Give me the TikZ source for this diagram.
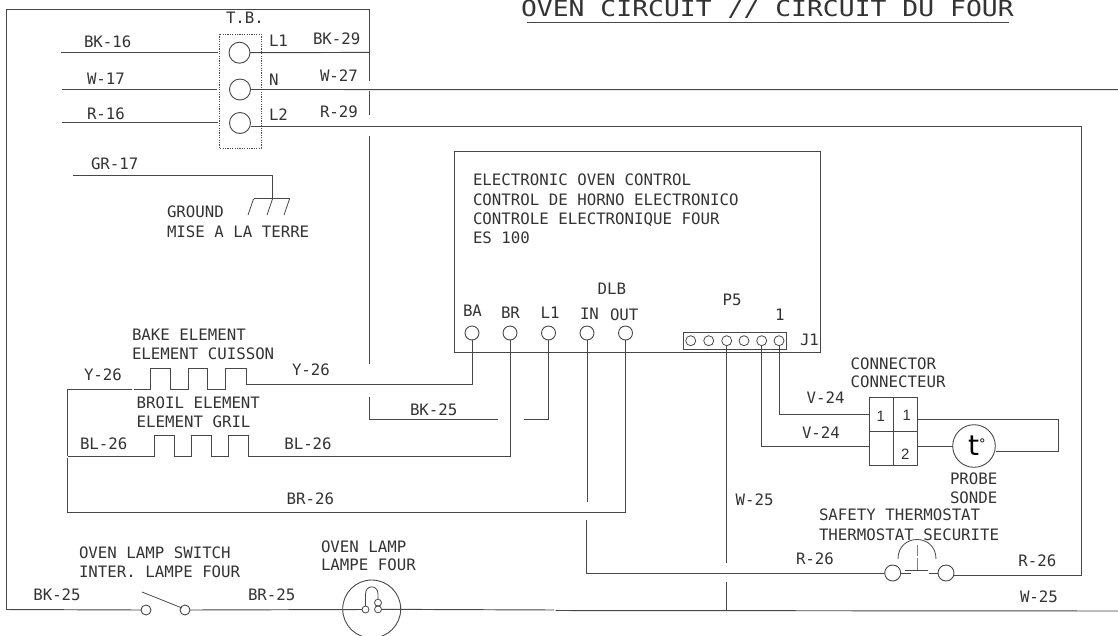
\documentclass[tikz,border=0pt]{standalone}
\usepackage{fontspec}
\setmainfont{DejaVu Sans Mono}
\newfontfamily\digitfont{Liberation Sans}
\newfontfamily\probefont{DejaVu Sans}
\definecolor{ink}{gray}{0.28}
\definecolor{txt}{gray}{0.2}
\tikzset{
  wire/.style={draw=ink,line width=0.95pt,line join=miter},
  lbl/.style={anchor=base west,inner sep=0pt,outer sep=0pt,text=txt,font=\fontsize{15.75}{16}\selectfont},
  ttl/.style={lbl,font=\fontsize{26.4}{27}\selectfont},
  digit/.style={anchor=base west,inner sep=0pt,outer sep=0pt,text=txt,font=\digitfont\fontsize{15}{15}\selectfont},
  term/.style={circle,draw=ink,line width=0.9pt,inner sep=0pt,outer sep=0pt,minimum size=21pt},
  pin/.style={circle,draw=ink,line width=0.9pt,inner sep=0pt,outer sep=0pt,minimum size=14pt},
  spin/.style={circle,draw=ink,line width=0.8pt,inner sep=0pt,outer sep=0pt,minimum size=10pt},
  sw/.style={circle,draw=ink,line width=0.9pt,inner sep=0pt,outer sep=0pt,minimum size=10pt},
  th/.style={circle,draw=ink,line width=0.9pt,inner sep=0pt,outer sep=0pt,minimum size=16pt},
  fil/.style={circle,draw=ink,line width=0.8pt,inner sep=0pt,outer sep=0pt,minimum size=7pt},
}
\newcommand{\lb}[4]{\node[lbl] (#1) at (#2,#3) {#4};}
\begin{document}
\begin{tikzpicture}[x=1pt,y=-1pt]
\clip (0,0) rectangle (1118,635);
% ---------- free ends
\coordinate (tl) at (6.5,9);
\coordinate (tr) at (369,9);
\coordinate (fr1) at (369,81);
\coordinate (fr2a) at (369,90.5);
\coordinate (fr2b) at (369,115);
\coordinate (fr3a) at (369,136);
\coordinate (fr3b) at (369,364);
\coordinate (fr4a) at (369,397);
\coordinate (bk25a) at (498,419.5);
\coordinate (bk25b) at (524,419.5);
\coordinate (bl) at (6.5,609.5);
\coordinate (bk16) at (61,52.7);
\coordinate (bk16e) at (218,52.7);
\coordinate (w17) at (62,89);
\coordinate (w17e) at (217,89);
\coordinate (r16) at (62,122.7);
\coordinate (r16e) at (218,122.7);
\coordinate (l1e) at (369,52.4);
\coordinate (ne) at (1118,89.7);
\coordinate (l2c) at (1081,126);
\coordinate (rc) at (1081,575.7);
\coordinate (gr) at (73,175.7);
\coordinate (grc) at (272,175.7);
\coordinate (gh) at (272,198.5);
\coordinate (ga) at (254,198.5);
\coordinate (gb) at (289.5,198.5);
\coordinate (inend) at (587,501.7);
\coordinate (in2) at (586,520);
\coordinate (w25e) at (726.7,562.7);
\coordinate (w25b) at (726.7,582.3);
\coordinate (w25c) at (726.7,610.5);
\coordinate (gapa) at (554,610);
\coordinate (gapb) at (555.5,610.5);
\coordinate (be) at (1118,611);
\coordinate (yl) at (67.7,389);
\coordinate (yr) at (132,389);
\coordinate (blt) at (67.7,456);
\coordinate (brb) at (67.7,512.5);
% ---------- thermostat nodes
\node[th] (th1) at (892.7,573) {};
\node[th] (th2) at (946,573) {};
% ---------- terminal block
\draw[draw=ink,line width=0.9pt,dash pattern=on 1.2pt off 1.2pt] (219,34) rectangle (261,148);
\node[term] (t1) at (239.5,52.7) {};
\node[term] (t2) at (240,89.5) {};
\node[term] (t3) at (240,123) {};
\draw[wire] (bk16) -- (bk16e);
\draw[wire] (w17) -- (w17e);
\draw[wire] (r16) -- (r16e);
\draw[wire] (t1.east) -- (l1e);
\draw[wire] (t2.east) -- (ne);
\draw[wire] (t3.east) ++(0,3) -- (l2c) -- (rc) -- (954,575.7);
% ---------- outer frame
\draw[wire] (bl) -- (tl) -- (tr) -- (fr1);
\draw[wire] (fr2a) -- (fr2b);
\draw[wire] (fr3a) -- (fr3b);
% ---------- ground
\draw[wire] (gr) -- (grc) -- (gh);
\draw[wire] (ga) -- (gb);
\draw[wire,line width=0.8pt] (253.5,199) -- (248,215);
\draw[wire,line width=0.8pt] (272.5,199) -- (267,215);
\draw[wire,line width=0.8pt] (289.5,199) -- (284,215);
% ---------- control box
\draw[wire] (454.3,151) rectangle (820.7,352.3);
\node[pin] (ba) at (472,333) {};
\node[pin] (br) at (510,333) {};
\node[pin] (ll) at (548.5,333) {};
\node[pin] (in) at (587,333) {};
\node[pin] (out) at (625.5,333) {};
\draw[wire] (683.3,332) rectangle (786,349.3);
\node[spin] (p1) at (690.7,340.7) {};
\node[spin] (p2) at (708.7,340.7) {};
\node[spin] (p3) at (726.7,340.7) {};
\node[spin] (p4) at (744,340.7) {};
\node[spin] (p5) at (761.7,340.7) {};
\node[spin] (p6) at (779,340.7) {};
% ---------- elements and harness
\draw[wire] (ba.south) |- (246,384) -- (246,368) -- (225,368) -- (225,389) -- (207,389) -- (207,368) -- (188,368) -- (188,389) -- (170,389) -- (170,368) -- (150,368) -- (150,389) -- (133.5,389);
\draw[wire] (yr) -- (yl) -- (blt);
\draw[wire] (br.south) |- (248,456) -- (248,435.7) -- (228.7,435.7) -- (228.7,456) -- (211,456) -- (211,435.7) -- (191.7,435.7) -- (191.7,456) -- (174,456) -- (174,435.7) -- (154,435.7) -- (154,456) -- (blt);
\draw[wire] (blt) ++(0,1.5) -- (brb) -- (625.5,512.5) -- (out.south);
\draw[wire] (fr4a) |- (bk25a);
\draw[wire] (bk25b) -- (548.5,419.5) -- (ll.south);
\draw[wire] (in.south) -- (inend);
\draw[wire] (in2) |- (th1.west);
\draw[wire] (p3.south) -- (w25e);
\draw[wire] (w25b) -- (w25c);
% ---------- lamp
\node[circle,draw=ink,line width=0.9pt,inner sep=0pt,minimum size=58pt] (lamp) at (371.7,609) {};
\node[fil] (f1) at (365.5,609.5) {};
\node[fil] (f2) at (378,602.7) {};
\node[fil] (f3) at (378,609.3) {};
\draw[wire,line width=0.8pt] (f1.north) -- (365.5,594) .. controls (365.5,584.5) and (378,584.5) .. (378,594) -- (f2.north);
% ---------- bottom line
\node[sw] (s1) at (146,610) {};
\node[sw] (s2) at (185,610) {};
\draw[wire] (bl) -- (s1.west);
\draw[wire,line width=0.8pt] (142,592) -- (182,608);
\draw[wire] (s2.east) -- (f1.west);
\draw[wire] (f3.east) -- (gapa);
\draw[wire] (gapb) -- (be);
% ---------- connector and probe
\draw[wire] (869,397.3) rectangle (917.3,465);
\draw[wire] (893,397.3) -- (893,465);
\draw[wire] (869,431) -- (917.3,431);
\draw[wire] (p6.south) |- (869,414);
\draw[wire] (p5.south) |- (869,446);
\node[circle,draw=ink,line width=0.9pt,inner sep=0pt,outer sep=0pt,minimum size=42.6pt] (probe) at (974,446) {};
\draw[wire] (917.3,446) -- (probe.west);
\draw[wire] (917.3,419) -- (1058.3,419) -- (1058.3,451) -- (995.7,451);
\node[anchor=base west,inner sep=0pt,text=black,font=\probefont\fontsize{28}{28}\selectfont] (tdeg) at (968,455.7) {t\raisebox{7.7pt}{\fontsize{13}{13}\selectfont °}};
% ---------- thermostat
\draw[wire] (th1.east) -- (911,573);
\draw[wire] (929,573) -- (th2.west);
\draw[wire] (905,570) -- (928,570);
\draw[wire,draw=gray] (917.3,545) -- (917.3,556);
\draw[wire,draw=gray] (917.3,558) -- (917.3,570);
\draw[wire,line width=0.8pt] (898,559) .. controls (898,533) and (936,533) .. (936,559);
% ---------- text
\node[ttl] (title) at (521,16.7) {\scalebox{1}[0.84]{OVEN CIRCUIT // CIRCUIT DU FOUR}};
\draw[wire] (527,22.7) -- (1009,22.7);
\lb{a1}{84}{47.7}{BK-16}
\lb{a2}{87}{84}{W-17}
\lb{a3}{87}{119.5}{R-16}
\lb{a4}{226}{23}{T.B.}
\lb{a5}{269}{46.5}{L1}
\lb{a6}{313}{44.3}{BK-29}
\lb{a7}{269}{85}{N}
\lb{a8}{320}{81}{W-27}
\lb{a9}{269}{120.7}{L2}
\lb{a10}{320}{117}{R-29}
\lb{a11}{91}{169}{GR-17}
\lb{a12}{167}{217.7}{GROUND}
\lb{a13}{167}{237}{MISE A LA TERRE}
\lb{b1}{473}{185.7}{ELECTRONIC OVEN CONTROL}
\lb{b2}{473}{205}{CONTROL DE HORNO ELECTRONICO}
\lb{b3}{473}{224}{CONTROLE ELECTRONIQUE FOUR}
\lb{b4}{473}{243.3}{ES 100}
\lb{b5}{597.7}{294.7}{DLB}
\lb{b6}{722.7}{305.7}{P5}
\lb{b7}{775}{320.7}{1}
\lb{b8}{463}{316.7}{BA}
\lb{b9}{501}{318}{BR}
\lb{b10}{540.7}{318}{L1}
\lb{b11}{580}{319.3}{IN}
\lb{b12}{610}{320}{OUT}
\lb{b13}{800}{345}{J1}
\lb{c1}{132}{340.7}{BAKE ELEMENT}
\lb{c2}{132}{359.7}{ELEMENT CUISSON}
\lb{c3}{84}{380}{Y-26}
\lb{c4}{292}{375.7}{Y-26}
\lb{c5}{136.7}{408.3}{BROIL ELEMENT}
\lb{c6}{136.7}{427.3}{ELEMENT GRIL}
\lb{c7}{80}{449.3}{BL-26}
\lb{c8}{284.3}{449.3}{BL-26}
\lb{c9}{410}{415}{BK-25}
\lb{c10}{286.7}{504}{BR-26}
\lb{c11}{79}{558}{OVEN LAMP SWITCH}
\lb{c12}{79}{577}{INTER. LAMPE FOUR}
\lb{c13}{33.3}{600.7}{BK-25}
\lb{c14}{248}{600.7}{BR-25}
\lb{c15}{321}{552}{OVEN LAMP}
\lb{c16}{321}{570.7}{LAMPE FOUR}
\lb{d1}{850.7}{369}{CONNECTOR}
\lb{d2}{850.7}{387.7}{CONNECTEUR}
\lb{d3}{806.7}{403.3}{V-24}
\lb{d4}{802}{438}{V-24}
\lb{d5}{950}{484}{PROBE}
\lb{d6}{950}{503.3}{SONDE}
\lb{d7}{819}{520.7}{SAFETY THERMOSTAT}
\lb{d8}{819}{540}{THERMOSTAT SECURITE}
\lb{d9}{735.7}{505.7}{W-25}
\lb{d10}{796}{564}{R-26}
\lb{d11}{1018.3}{566}{R-26}
\lb{d12}{1020}{602}{W-25}
\node[digit] (e1) at (876.5,421) {1};
\node[digit] (e2) at (902.5,420) {1};
\node[digit] (e3) at (901,459) {2};
\end{tikzpicture}
\end{document}
